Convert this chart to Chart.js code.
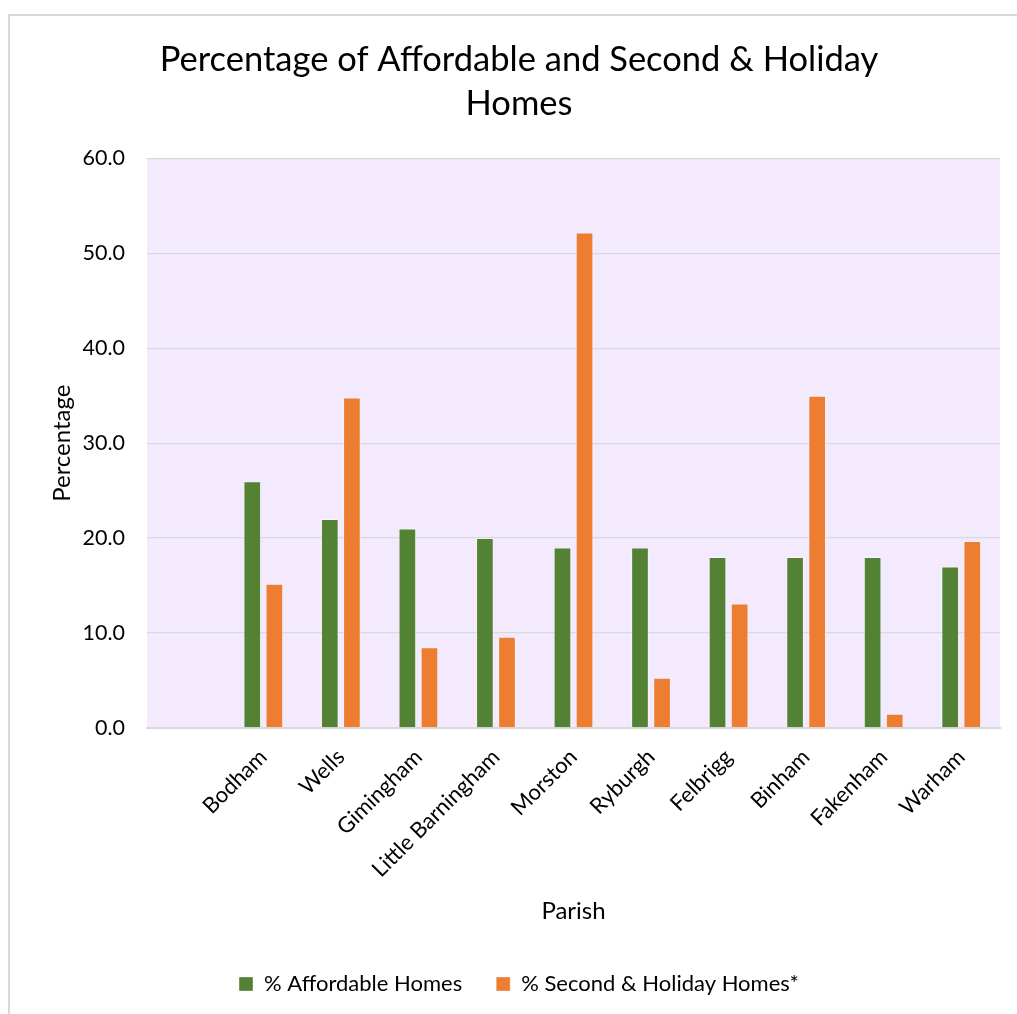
<!DOCTYPE html>
<html lang="en">
<head>
<meta charset="UTF-8">
<title>Affordable and Second & Holiday Homes</title>
<script src="https://cdn.jsdelivr.net/npm/chart.js@4.4.0/dist/chart.umd.min.js"></script>
<style>
    body { margin: 0; overflow: hidden; background: #fff; }
    #frame { position: absolute; left: 8px; top: 14px; width: 2000px; height: 2000px;
             border-left: 2px solid #d9d9d9; border-top: 2px solid #d9d9d9; }
    #chart { position: absolute; left: 0; top: 0; }
</style>
</head>
<body>
<div id="frame"></div>
<canvas id="chart" width="1038" height="1014"></canvas>
<script>
    // first category is left empty in the original sheet
    var parishes = ['', 'Bodham', 'Wells', 'Gimingham', 'Little Barningham', 'Morston',
                    'Ryburgh', 'Felbrigg', 'Binham', 'Fakenham', 'Warham'];
    var affordable = [null, 26, 22, 21, 20, 19, 19, 18, 18, 18, 17];
    var secondHoliday = [null, 15.2, 34.8, 8.5, 9.6, 52.2, 5.3, 13.1, 35.0, 1.5, 19.7];
    var yTicks = [0, 10, 20, 30, 40, 50, 60];

    Chart.defaults.font.family = 'Lato';
    Chart.defaults.color = '#000';

    const plotBg = {
        id: 'plotBg',
        beforeDraw(chart) {
            const a = chart.chartArea;
            const ctx = chart.ctx;
            ctx.save();
            ctx.fillStyle = '#f3ebfd';
            ctx.fillRect(a.left, a.top, a.right - a.left, a.bottom - a.top);
            ctx.restore();
        }
    };

    new Chart(document.getElementById('chart'), {
        type: 'bar',
        data: {
            labels: parishes,
            datasets: [{
                label: '% Affordable Homes',
                data: affordable,
                backgroundColor: '#548235',
                borderColor: 'rgba(255,255,255,0.35)',
                borderWidth: 1
            }, {
                label: '% Second & Holiday Homes*',
                data: secondHoliday,
                backgroundColor: '#ed7d31',
                borderColor: 'rgba(255,255,255,0.35)',
                borderWidth: 1
            }]
        },
        options: {
            responsive: false,
            animation: false,
            barPercentage: 0.8,
            categoryPercentage: 0.57,
            layout: { padding: { left: 38, right: 38, top: 0, bottom: 9 } },
            plugins: {
                title: {
                    display: true,
                    text: ['Percentage of Affordable and Second & Holiday', 'Homes'],
                    font: { size: 34.5, weight: 'normal', lineHeight: 1.28 },
                    padding: { top: 38, bottom: 32 }
                },
                legend: {
                    position: 'bottom',
                    labels: { boxWidth: 14, boxHeight: 14, padding: 34, font: { size: 22 } }
                },
                tooltip: { enabled: false }
            },
            scales: {
                x: {
                    grid: { display: false },
                    border: { color: '#d9d9d9', width: 2 },
                    ticks: { minRotation: 45, maxRotation: 45, autoSkip: false, padding: 8, font: { size: 22 } },
                    title: { display: true, text: 'Parish', font: { size: 24 }, padding: { top: 0, bottom: 13 } },
                    afterFit(s) { s.height = 211; }
                },
                y: {
                    min: 0,
                    max: 60,
                    afterBuildTicks(s) { s.ticks = yTicks.map(v => ({ value: v })); },
                    grid: { color: '#d9d9d9', lineWidth: 1.3, drawTicks: false },
                    border: { display: false },
                    ticks: { padding: 22, font: { size: 21.5 }, callback: v => v.toFixed(1) },
                    title: { display: true, text: 'Percentage', font: { size: 24 }, padding: { top: 10, bottom: 0 } },
                    afterFit(s) { s.width = 109; }
                }
            }
        },
        plugins: [plotBg]
    });
</script>
</body>
</html>
